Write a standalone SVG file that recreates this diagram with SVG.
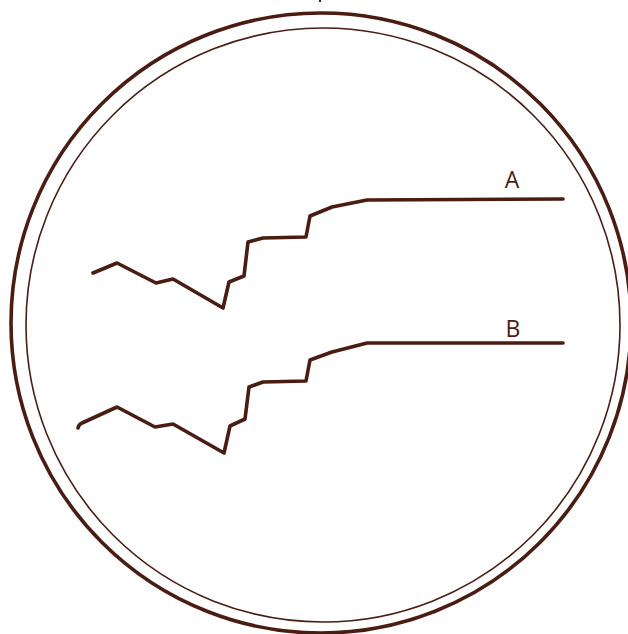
<svg xmlns="http://www.w3.org/2000/svg" width="628" height="634" viewBox="0 0 628 634">
<style>
.ring{fill:none;stroke:#4a1c12}
.trace{fill:none;stroke:#4a1c12;stroke-width:3.6;stroke-linejoin:round;stroke-linecap:round}
.lbl{font-family:"Open Sans","Liberation Sans",sans-serif;font-size:23px;fill:#4a1c12;text-anchor:middle}
</style>
<g id="dish">
<circle class="ring" cx="321" cy="323" r="310" stroke-width="3.6"/>
<circle class="ring" cx="323" cy="325" r="297" stroke-width="1.6"/>
<line x1="320" y1="0" x2="320" y2="2" stroke="#4a1c12" stroke-width="2"/>
</g>
<g id="connectors">
<polyline id="trace-A" class="trace" points="93,273 117,263 156,283 173,279 223,308 229,282 244,276 248,242 263,238 306,237 310,216 332,207 367,200 563,199"/>
<path id="trace-B" class="trace" d="M78,428 Q79,424 82,423 L117,407 155,427 173,424 224,453 230,426 245,419 249,387 263,382 306,381 310,360 332,352 367,343 563,343"/>
</g>
<g id="label-A"><text class="lbl" x="512" y="188">A</text></g>
<g id="label-B"><text class="lbl" x="513" y="337">B</text></g>
</svg>
